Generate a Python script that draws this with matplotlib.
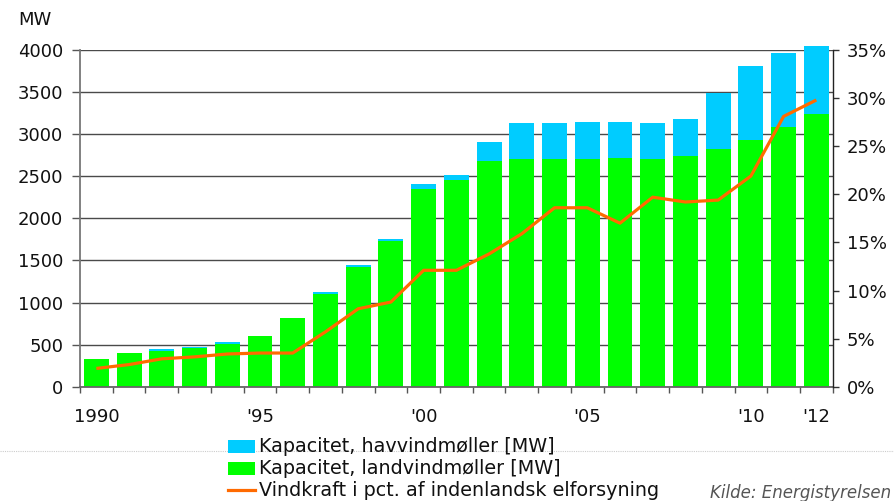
import matplotlib
matplotlib.use("Agg")
import matplotlib.pyplot as plt
from matplotlib.patches import Rectangle
from matplotlib.lines import Line2D
import numpy as np

plt.rcParams['font.family'] = ['DejaVu Sans']

years = list(range(1990, 2013))
land_mw = [330, 400, 425, 465, 505, 600, 815, 1105, 1422, 1731, 2349, 2456,
           2678, 2701, 2701, 2701, 2721, 2701, 2745, 2824, 2934, 3085, 3243]
total_mw = [330, 400, 448, 470, 531, 602, 816, 1125, 1446, 1755, 2408, 2515,
            2907, 3132, 3132, 3144, 3144, 3132, 3180, 3489, 3810, 3964, 4048]
sea_mw = [t - l for t, l in zip(total_mw, land_mw)]
wind_share = [1.9, 2.3, 2.9, 3.1, 3.4, 3.5, 3.5, 5.7, 8.1, 8.8, 12.1, 12.1,
              13.8, 15.9, 18.6, 18.6, 17.0, 19.7, 19.2, 19.4, 21.9, 28.1, 29.8]
tick_labels = {1990: "1990", 1995: "'95", 2000: "'00", 2005: "'05", 2010: "'10", 2012: "'12"}

legend_labels = ["Kapacitet, havvindmøller [MW]",
                 "Kapacitet, landvindmøller [MW]",
                 "Vindkraft i pct. af indenlandsk elforsyning"]

BLUE = "#00CCFF"
GREEN = "#00FF00"
ORANGE = "#FF6A00"
FS = 13

W, H = 894, 501
fig = plt.figure(figsize=(W / 100, H / 100), dpi=100)
ax = fig.add_axes([80 / W, 1 - 386.7 / H, (832.7 - 80) / W, (386.7 - 50) / H])

x = np.arange(len(years))
ax.bar(x, land_mw, width=0.76, color=GREEN, zorder=2, clip_on=False)
ax.bar(x, sea_mw, bottom=land_mw, width=0.76, color=BLUE, zorder=2, clip_on=False)

ax.set_xlim(-0.5, len(years) - 0.5)
ax.set_ylim(0, 4000)
ax.set_yticks(np.arange(0, 4001, 500))
ax.yaxis.grid(True, color="#4a4a4a", linewidth=1.0, zorder=1)
ax.set_axisbelow(True)

major = [years.index(y) for y in tick_labels]
ax.set_xticks(major)
ax.set_xticklabels([tick_labels[years[i]] for i in major])
ax.set_xticks(np.arange(-0.5, len(years), 1.0), minor=True)
ax.tick_params(axis="x", which="major", length=0, pad=15, labelsize=FS, colors="#111111")
ax.tick_params(axis="x", which="minor", length=4.5, width=1, color="#555555")
ax.tick_params(axis="y", length=6, width=1, color="#555555", pad=6, labelsize=FS, labelcolor="#111111")

for s in ("top", "right"):
    ax.spines[s].set_visible(False)
ax.spines["left"].set_color("#777777")
ax.spines["left"].set_linewidth(1.3)
ax.spines["bottom"].set_color("#666666")
ax.spines["bottom"].set_linewidth(1.3)

ax2 = ax.twinx()
ax2.plot(x, wind_share, color=ORANGE, linewidth=2.3, zorder=3, solid_capstyle="butt")
ax2.set_ylim(0, 35)
ax2.set_yticks(np.arange(0, 36, 5))
ax2.set_yticklabels([f"{v}%" for v in range(0, 36, 5)])
ax2.tick_params(axis="y", length=4.3, width=1, color="#333333", pad=6, labelsize=FS, labelcolor="#111111")
for s in ("top", "left", "bottom"):
    ax2.spines[s].set_visible(False)
ax2.spines["right"].set_color("#222222")
ax2.spines["right"].set_linewidth(1.0)

fig.text(18 / W, 1 - 20 / H, "MW", fontsize=FS, va="center", ha="left", color="#111111")

# thin dotted separator across the bottom area
fig.add_artist(Line2D([0, 1], [1 - 451 / H] * 2, transform=fig.transFigure,
                      color="#cccccc", linewidth=0.8, linestyle=(0, (1, 1)), zorder=0))

# legend drawn as swatches + text in figure pixel coordinates
def fx(px):
    return px / W

def fy(py):
    return 1 - py / H

rows_y = [446.5, 468.3, 490.0]
sw_x0, sw_x1 = 228, 255
for i, (lab, yy) in enumerate(zip(legend_labels, rows_y)):
    if i < 2:
        fig.add_artist(Rectangle((fx(sw_x0), fy(yy + 6.3)), fx(sw_x1) - fx(sw_x0), 12.6 / H,
                                 transform=fig.transFigure, facecolor=[BLUE, GREEN][i],
                                 edgecolor="none"))
    else:
        fig.add_artist(Line2D([fx(sw_x0), fx(sw_x1)], [fy(yy)] * 2, transform=fig.transFigure,
                              color=ORANGE, linewidth=2.3))
    fig.text(fx(259), fy(yy), lab, fontsize=13.8, va="center", ha="left", color="#111111")

fig.text(fx(891), fy(493), "Kilde: Energistyrelsen", fontsize=12, style="italic",
         color="#555555", va="center", ha="right")

fig.savefig("out.png", dpi=100)
